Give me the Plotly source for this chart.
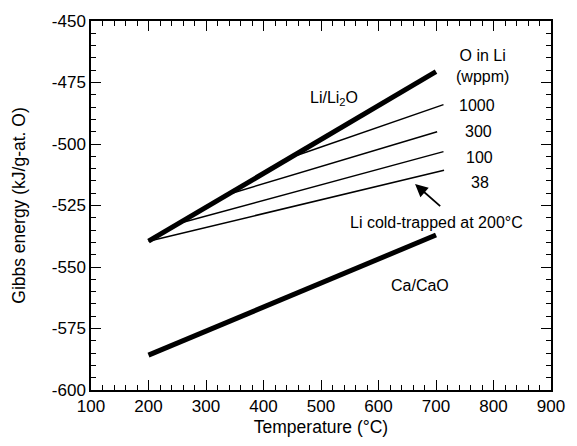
import plotly.graph_objects as go

# Li/Li2O equilibrium line
li_T = [200, 700]
li_G = [-539.5, -470.6]

# Ca/CaO equilibrium line
ca_T = [200, 450, 700]
ca_G = [-585.8, -561.5, -537.0]

# Oxygen-in-Li iso-concentration lines (wppm)
o_labels = ["1000", "300", "100", "38"]
o_T_start = [460, 345, 257, 200]
o_G_start = [-504.5, -520.0, -532.0, -539.5]
o_T_end = [713, 702, 713, 714]
o_G_end = [-484.0, -495.0, -503.1, -510.7]

# tick labels (hyphen minus as in the original)
y_tickvals = [-600, -575, -550, -525, -500, -475, -450]
y_ticktext = ["-600", "-575", "-550", "-525", "-500", "-475", "-450"]
x_tickvals = [100, 200, 300, 400, 500, 600, 700, 800, 900]
x_ticktext = ["100", "200", "300", "400", "500", "600", "700", "800", "900"]

FONT = "Liberation Sans, Arial, Helvetica, sans-serif"

fig = go.Figure()

for i, lab in enumerate(o_labels):
    fig.add_trace(go.Scatter(
        x=[o_T_start[i], o_T_end[i]], y=[o_G_start[i], o_G_end[i]],
        mode="lines", line=dict(color="black", width=1.5), showlegend=False,
        hoverinfo="skip"))

fig.add_trace(go.Scatter(x=li_T, y=li_G, mode="lines",
                         line=dict(color="black", width=5), showlegend=False))
fig.add_trace(go.Scatter(x=ca_T, y=ca_G, mode="lines",
                         line=dict(color="black", width=5), showlegend=False))

ann_font = dict(family=FONT, size=16, color="black")
label_y = [-484.4, -494.9, -505.3, -515.7]
label_x = [771, 773.5, 775, 776.5]
for lx, ly, lab in zip(label_x, label_y, o_labels):
    fig.add_annotation(x=lx, y=ly, text=lab, showarrow=False, font=ann_font)

fig.add_annotation(x=781, y=-468.3, text="O in Li<br>(wppm)", showarrow=False,
                   font=ann_font)
fig.add_annotation(x=522, y=-481.7, text="Li/Li<sub>2</sub>O", showarrow=False, font=ann_font)
fig.add_annotation(x=672.5, y=-557.5, text="Ca/CaO", showarrow=False, font=ann_font)
fig.add_annotation(x=701.7, y=-531.8, text="Li cold-trapped at 200°C", showarrow=False, font=ann_font)
fig.add_annotation(x=663.6, y=-516.3, ax=709.9, ay=-525.8, axref="x", ayref="y",
                   text="", showarrow=True, arrowhead=2, arrowsize=1.4,
                   arrowwidth=1.8, arrowcolor="black")

axis_common = dict(
    showgrid=False, zeroline=False, showline=True, linecolor="black",
    linewidth=1.5, mirror="allticks", ticks="inside", ticklen=10,
    tickwidth=1.3, tickcolor="black",
    tickfont=dict(family=FONT, size=17, color="black"),
)

fig.update_layout(
    width=577, height=446,
    margin=dict(l=91, r=18, t=17, b=55),
    paper_bgcolor="white", plot_bgcolor="white",
    font=dict(family=FONT, color="black"),
    xaxis=dict(range=[100, 900], tickmode="array", tickvals=x_tickvals, ticktext=x_ticktext,
               title=dict(text="Temperature (°C)", font=dict(family=FONT, size=17.5), standoff=6),
               minor=dict(ticks="inside", ticklen=5, dtick=20, tick0=100, tickwidth=1.2, tickcolor="black"),
               **axis_common),
    yaxis=dict(range=[-600, -450], tickmode="array", tickvals=y_tickvals, ticktext=y_ticktext,
               title=dict(text="Gibbs energy (kJ/g-at. O)", font=dict(family=FONT, size=17.5), standoff=22),
               minor=dict(ticks="inside", ticklen=5, dtick=5, tick0=-600, tickwidth=1.2, tickcolor="black"),
               **axis_common),
)

fig.write_html("out.html", config={"displayModeBar": False},
               post_script="document.body.style.margin='0';")
